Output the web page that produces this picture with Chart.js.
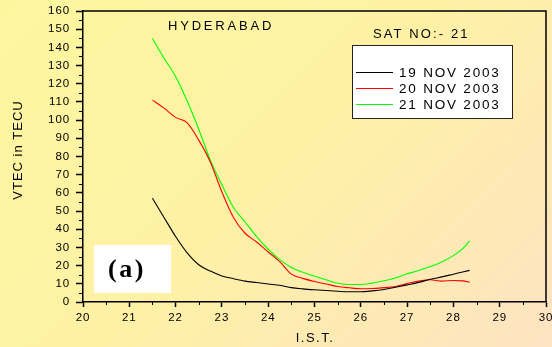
<!DOCTYPE html>
<html>
<head>
<meta charset="utf-8">
<script src="https://cdn.jsdelivr.net/npm/chart.js@4.4.1/dist/chart.umd.min.js"></script>
<style>
  html, body { margin: 0; padding: 0; width: 552px; height: 347px; overflow: hidden; }
  #wrap {
    width: 552px; height: 347px;
    background: linear-gradient(135deg, #fef69f 0%, #fef1a6 50%, #fde3c2 100%);
  }
  canvas { display: block; }
</style>
</head>
<body>
<div id="wrap"><canvas id="tec" width="552" height="347"></canvas></div>
<script>
// Local time (I.S.T., hours) of each VTEC sample
const hours = [21.5, 21.75, 22, 22.25, 22.5, 22.75, 23, 23.25, 23.5, 23.75, 24, 24.25, 24.5, 24.75,
               25, 25.25, 25.5, 25.75, 26, 26.25, 26.5, 26.75, 27, 27.25, 27.5, 27.75, 28, 28.2, 28.35];

// VTEC (TECU) for satellite 21 over Hyderabad
const tecNov19 = [57, 46.5, 36, 27, 20.5, 17, 14.3, 12.8, 11.5, 10.7, 9.9, 9.2, 7.9, 7.2,
                  6.7, 6.3, 5.9, 5.6, 5.6, 6.1, 6.9, 8.1, 9.4, 10.8, 12.5, 13.8, 15.3, 16.5, 17.4];
const tecNov20 = [111, 106.6, 101.5, 98.5, 89, 77, 60.5, 46.5, 37.8, 33, 27.5, 22.2, 15.3, 13,
                  11.3, 9.9, 8.5, 7.8, 7.3, 7.4, 7.9, 8.5, 10.1, 11.5, 12.2, 11.5, 11.8, 11.6, 10.8];
const tecNov21 = [145, 134, 124, 110.5, 95, 78, 64.5, 52, 44, 36, 29, 23.3, 19, 16.3,
                  14.2, 12.2, 10.3, 9.6, 9.6, 10.4, 11.7, 13.2, 15.5, 17.3, 19.5, 22, 25.5, 29.3, 33.6];

const seriesLabels = ['19 NOV 2003', '20 NOV 2003', '21 NOV 2003'];
const seriesColors = ['#000000', '#ff0000', '#00ff00'];

// Axis ranges and tick steps
const xRange = [20, 30];
const xStep = 1;
const yRange = [0, 160];
const yStep = 10;

const FONT = "'Liberation Sans', Arial, sans-serif";

function spacedText(ctx, s, x, y, font, spacing, align, baseline) {
  ctx.save();
  ctx.font = font;
  ctx.letterSpacing = spacing + 'px';
  ctx.textAlign = align || 'left';
  ctx.textBaseline = baseline || 'alphabetic';
  ctx.fillStyle = '#000';
  ctx.fillText(s, x, y);
  ctx.restore();
}

const decorations = {
  id: 'decorations',
  beforeDraw(chart) {
    chart.ctx.letterSpacing = '0.9px';
  },
  afterDraw(chart) {
    const { ctx, chartArea: a, scales: { x, y } } = chart;
    ctx.save();
    ctx.letterSpacing = '0px';

    // top and right frame lines
    ctx.strokeStyle = '#000';
    ctx.lineWidth = 1.5;
    ctx.beginPath();
    ctx.moveTo(a.left, a.top);
    ctx.lineTo(a.right, a.top);
    ctx.lineTo(a.right, a.bottom);
    ctx.stroke();

    // minor ticks halfway between labelled ones
    ctx.lineWidth = 1;
    ctx.beginPath();
    for (let v = yRange[0] + yStep / 2; v < yRange[1]; v += yStep) {
      const py = Math.round(y.getPixelForValue(v)) + 0.5;
      ctx.moveTo(a.left - 4, py);
      ctx.lineTo(a.left, py);
    }
    for (let v = xRange[0] + xStep / 2; v < xRange[1]; v += xStep) {
      const px = Math.round(x.getPixelForValue(v)) + 0.5;
      ctx.moveTo(px, a.bottom);
      ctx.lineTo(px, a.bottom + 3);
    }
    ctx.stroke();

    // panel tag
    ctx.fillStyle = '#ffffff';
    ctx.fillRect(94, 245, 77, 48);
    spacedText(ctx, '(a)', 127, 270, "bold 26px 'Liberation Serif', 'Times New Roman', serif", 2.5, 'center', 'middle');

    // station and satellite captions
    spacedText(ctx, 'HYDERABAD', 168, 29.5, '13px ' + FONT, 2.8);
    spacedText(ctx, 'SAT NO:- 21', 373, 38, '13px ' + FONT, 2.1);

    // legend
    ctx.fillStyle = '#ffffff';
    ctx.fillRect(352.5, 45.5, 160, 73);
    ctx.strokeStyle = '#222';
    ctx.lineWidth = 1;
    ctx.strokeRect(352.5, 45.5, 160, 73);
    const rows = [72, 88, 104];
    chart.data.datasets.forEach((ds, i) => {
      ctx.strokeStyle = ds.borderColor;
      ctx.lineWidth = 1;
      ctx.beginPath();
      ctx.moveTo(356, rows[i] + 0.5);
      ctx.lineTo(393, rows[i] + 0.5);
      ctx.stroke();
      spacedText(ctx, ds.label, 399, rows[i] + 4.5, '13.5px ' + FONT, 1.8);
    });

    // axis titles
    ctx.save();
    ctx.translate(18, 150);
    ctx.rotate(-Math.PI / 2);
    spacedText(ctx, 'VTEC in TECU', 0, 0, '13px ' + FONT, 1, 'center', 'middle');
    ctx.restore();
    spacedText(ctx, 'I.S.T.', 315, 338, '13px ' + FONT, 1.5, 'center', 'middle');

    ctx.restore();
  }
};

const series = [tecNov19, tecNov20, tecNov21];

new Chart(document.getElementById('tec'), {
  type: 'line',
  data: {
    datasets: series.map((vals, i) => ({
      label: seriesLabels[i],
      data: hours.map((h, k) => ({ x: h, y: vals[k] })),
      borderColor: seriesColors[i],
      borderWidth: 1.1,
      pointRadius: 0,
      fill: false,
      cubicInterpolationMode: 'monotone'
    }))
  },
  options: {
    responsive: false,
    animation: false,
    devicePixelRatio: 1,
    layout: { padding: { left: 0, right: 6, top: 11, bottom: 0 } },
    plugins: { legend: { display: false }, tooltip: { enabled: false } },
    scales: {
      x: {
        type: 'linear',
        min: xRange[0], max: xRange[1],
        ticks: { stepSize: xStep, padding: 3.5, color: '#000', font: { family: FONT, size: 11.5 } },
        grid: { drawOnChartArea: false, tickLength: 5, tickColor: '#000', tickWidth: 1.5 },
        border: { color: '#000', width: 1.5 },
        afterFit(s) { s.height = 45; s.paddingLeft = 0; s.paddingRight = 0; }
      },
      y: {
        type: 'linear',
        min: yRange[0], max: yRange[1],
        ticks: { stepSize: yStep, padding: 6, color: '#000', font: { family: FONT, size: 11.5 } },
        grid: { drawOnChartArea: false, tickLength: 7, tickColor: '#000', tickWidth: 1.5 },
        border: { color: '#000', width: 1.5 },
        afterFit(s) { s.width = 83; s.paddingTop = 0; s.paddingBottom = 0; }
      }
    }
  },
  plugins: [decorations]
});
</script>
</body>
</html>
